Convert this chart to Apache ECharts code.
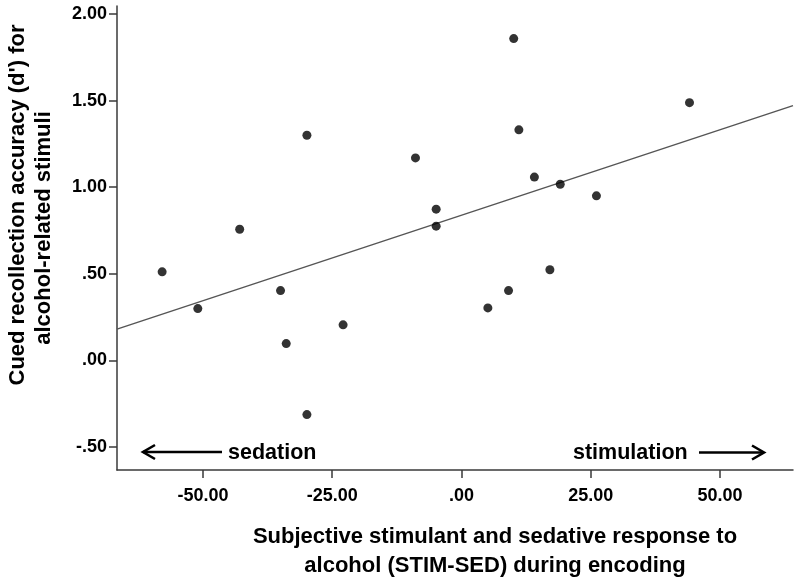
<!DOCTYPE html>
<html>
<head>
<meta charset="utf-8">
<script src="https://cdn.jsdelivr.net/npm/echarts@6/dist/echarts.min.js"></script>
<style>
html,body{margin:0;padding:0;background:#fff;}
#chart{width:800px;height:582px;}
</style>
</head>
<body>
<div id="chart"></div>
<script>
// STIM-SED score (x) and cued recollection accuracy d' (y)
const stimSed = [-57.9, -51.0, -42.9, -35.0, -33.9, -29.9, -29.9, -22.9, -8.9, -4.9, -4.9, 5.1, 9.1, 10.1, 11.1, 14.1, 17.1, 19.1, 26.1, 44.1];
const dPrime  = [0.511, 0.299, 0.757, 0.403, 0.097, 1.300, -0.313, 0.205, 1.169, 0.873, 0.775, 0.303, 0.403, 1.858, 1.331, 1.058, 0.523, 1.017, 0.950, 1.488];
// Fit line end points
const fitX = [-66.63, 64.12];
const fitY = [0.180, 1.471];
// Tick values
const xTicks = [-50, -25, 0, 25, 50];
const yTicks = [-0.5, 0, 0.5, 1.0, 1.5, 2.0];

const points = stimSed.map((x, i) => [x, dPrime[i]]);
const fitLine = fitX.map((x, i) => [x, fitY[i]]);

function fmt(v) {
  return Number(v).toFixed(2).replace(/^(-?)0\./, '$1.');
}

const FONT = '"Liberation Sans", Arial, sans-serif';
const axisColor = '#3a3a3a';

const chart = echarts.init(document.getElementById('chart'), null, {renderer: 'canvas'});
chart.setOption({
  animation: false,
  backgroundColor: '#ffffff',
  grid: {left: 117, right: 7, top: 6, bottom: 112, containLabel: false},
  xAxis: {
    type: 'value',
    min: -66.63, max: 64.12,
    axisLine: {show: true, onZero: false, lineStyle: {color: axisColor, width: 1.5}},
    axisTick: {show: true, customValues: xTicks, length: 8, lineStyle: {color: axisColor, width: 1.5}},
    axisLabel: {customValues: xTicks, formatter: fmt, margin: 17, color: '#000', fontFamily: FONT, fontWeight: 'bold', fontSize: 18},
    splitLine: {show: false}
  },
  yAxis: {
    type: 'value',
    min: -0.633, max: 2.046,
    axisLine: {show: true, onZero: false, lineStyle: {color: axisColor, width: 1.5}},
    axisTick: {show: true, customValues: yTicks, length: 8, lineStyle: {color: axisColor, width: 1.5}},
    axisLabel: {customValues: yTicks, formatter: fmt, margin: 10, color: '#000', fontFamily: FONT, fontWeight: 'bold', fontSize: 18},
    splitLine: {show: false}
  },
  series: [
    {
      type: 'line',
      data: fitLine,
      showSymbol: false,
      symbol: 'none',
      lineStyle: {color: '#555', width: 1.4},
      silent: true,
      z: 1
    },
    {
      type: 'scatter',
      data: points,
      symbol: 'circle',
      symbolSize: 9,
      itemStyle: {color: '#000'},
      z: 2
    }
  ],
  graphic: [
    // y-axis title (two lines)
    {type: 'text', x: 18, y: 205, rotation: Math.PI / 2,
     style: {text: "Cued recollection accuracy (d') for", font: 'bold 22px ' + FONT, fill: '#000', textAlign: 'center', textVerticalAlign: 'middle'}},
    {type: 'text', x: 44, y: 228, rotation: Math.PI / 2,
     style: {text: 'alcohol-related stimuli', font: 'bold 22px ' + FONT, fill: '#000', textAlign: 'center', textVerticalAlign: 'middle'}},
    // x-axis title (two lines)
    {type: 'text', x: 495, y: 537,
     style: {text: 'Subjective stimulant and sedative response to', font: 'bold 22px ' + FONT, fill: '#000', textAlign: 'center', textVerticalAlign: 'middle'}},
    {type: 'text', x: 495, y: 566,
     style: {text: 'alcohol (STIM-SED) during encoding', font: 'bold 22px ' + FONT, fill: '#000', textAlign: 'center', textVerticalAlign: 'middle'}},
    // sedation arrow
    {type: 'line', shape: {x1: 143, y1: 452, x2: 222, y2: 452}, style: {stroke: '#000', lineWidth: 2.6}},
    {type: 'polyline', shape: {points: [[155, 445], [143, 452], [155, 459]]}, style: {stroke: '#000', lineWidth: 2.6, fill: null}},
    {type: 'text', x: 228, y: 453,
     style: {text: 'sedation', font: 'bold 21.5px ' + FONT, fill: '#000', textAlign: 'left', textVerticalAlign: 'middle'}},
    // stimulation arrow
    {type: 'text', x: 573, y: 453,
     style: {text: 'stimulation', font: 'bold 21.5px ' + FONT, fill: '#000', textAlign: 'left', textVerticalAlign: 'middle'}},
    {type: 'line', shape: {x1: 699, y1: 452.5, x2: 764, y2: 452.5}, style: {stroke: '#000', lineWidth: 2.6}},
    {type: 'polyline', shape: {points: [[752, 445.5], [764, 452.5], [752, 459.5]]}, style: {stroke: '#000', lineWidth: 2.6, fill: null}}
  ]
});
</script>
</body>
</html>
